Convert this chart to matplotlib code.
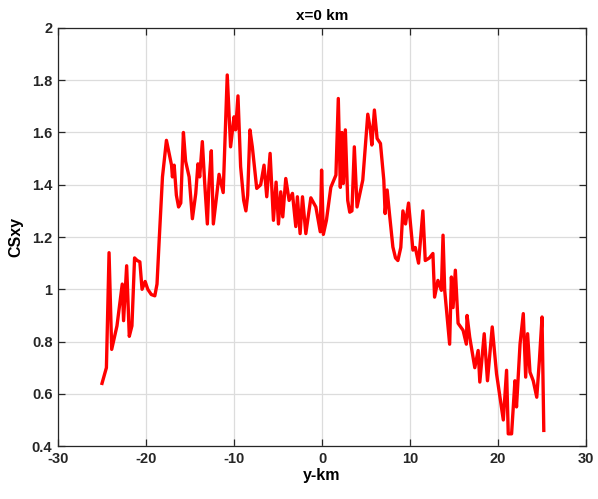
import matplotlib
matplotlib.use("Agg")
import matplotlib.pyplot as plt

# Data
y_km = [-25.0, -24.5, -24.2, -23.9, -23.3, -22.7, -22.55, -22.2, -21.9, -21.6,
        -21.3, -21.0, -20.7, -20.45, -20.1, -19.8, -19.4, -19.0, -18.75, -18.5,
        -18.13, -17.68,
        -17.38, -17.1, -17.0, -16.8, -16.55, -16.3, -16.05, -15.75, -15.5, -15.1, -14.73,
        -14.35, -14.1, -13.9, -13.6, -13.33, -13.03, -12.85, -12.58, -12.35, -12.0,
        -11.7, -11.23, -10.77, -10.39, -10.0, -9.82, -9.55, -9.25, -8.9, -8.65, -8.45, -8.19,
        -7.92, -7.42, -6.97, -6.59, -6.28, -5.9, -5.52, -5.22, -4.95, -4.69,
        -4.46, -4.12, -3.74, -3.36, -2.98, -2.8, -2.49, -2.22, -1.84, -1.27,
        -0.7, -0.2, -0.05, 0.15, 0.5, 1.0, 1.58, 1.85, 2.08, 2.27,
        2.42, 2.65, 2.92, 3.15, 3.4, 3.67, 3.98, 4.63, 5.2, 5.5, 5.66,
        5.95, 6.26, 6.64, 7.02, 7.17, 7.4, 7.66, 8.05, 8.35, 8.62, 8.95, 9.19,
        9.49, 9.83, 10.33, 10.6, 10.97, 11.46, 11.73, 12.2, 12.6, 12.79,
        13.17, 13.56, 13.75, 13.94, 14.5, 14.7, 14.89, 15.15, 15.46, 16.03,
        16.4, 16.48, 16.78, 17.36, 17.74, 17.93, 18.43, 18.8, 19.34, 19.83,
        20.6, 20.97, 21.16, 21.54, 21.92, 22.1, 22.5, 22.87, 23.14, 23.36,
        23.63, 24.0, 24.4, 24.7, 25.0, 25.2]
csxy = [0.64, 0.70, 1.14, 0.77, 0.86, 1.02, 0.88, 1.09, 0.82, 0.86,
        1.12, 1.11, 1.105, 1.00, 1.03, 1.0, 0.98, 0.975, 1.02, 1.19,
        1.43, 1.57,
        1.52, 1.475, 1.43, 1.475, 1.36, 1.315, 1.33, 1.60, 1.49, 1.43, 1.27,
        1.366, 1.48, 1.43, 1.565, 1.405, 1.25, 1.40, 1.53, 1.25, 1.35,
        1.44, 1.37, 1.82, 1.545, 1.66, 1.61, 1.74, 1.47, 1.34, 1.30, 1.36, 1.61,
        1.545, 1.386, 1.40, 1.475, 1.354, 1.52, 1.264, 1.41, 1.25, 1.373,
        1.277, 1.424, 1.34, 1.367, 1.24, 1.354, 1.213, 1.354, 1.213, 1.35,
        1.315, 1.22, 1.456, 1.21, 1.264, 1.39, 1.437, 1.73, 1.39, 1.60,
        1.405, 1.61, 1.34, 1.295, 1.30, 1.545, 1.315, 1.418, 1.67, 1.61, 1.552,
        1.686, 1.577, 1.558, 1.418, 1.29, 1.38, 1.29, 1.162, 1.12, 1.11, 1.16, 1.30,
        1.25, 1.33, 1.15, 1.16, 1.10, 1.30, 1.11, 1.12, 1.137, 0.97,
        1.034, 0.996, 1.207, 0.996, 0.79, 1.047, 0.93, 1.073, 0.87, 0.843,
        0.79, 0.90, 0.817, 0.70, 0.766, 0.645, 0.83, 0.65, 0.856, 0.677,
        0.50, 0.69, 0.447, 0.447, 0.65, 0.55, 0.79, 0.907, 0.664, 0.83,
        0.683, 0.65, 0.587, 0.728, 0.894, 0.46]

x_ticks = [-30, -20, -10, 0, 10, 20, 30]
y_ticks = [0.4, 0.6, 0.8, 1.0, 1.2, 1.4, 1.6, 1.8, 2.0]
y_tick_labels = ["0.4", "0.6", "0.8", "1", "1.2", "1.4", "1.6", "1.8", "2"]

plt.rcParams['font.family'] = ['Liberation Sans', 'DejaVu Sans']
plt.rcParams['font.weight'] = 'bold'

fig = plt.figure(figsize=(5.98, 4.99), dpi=100)
ax = fig.add_axes([0.097, 0.106, 0.883, 0.838])

ax.plot(y_km, csxy, color='#ff0000', linewidth=2.4, solid_joinstyle='round')

ax.set_xlim(-30, 30)
ax.set_ylim(0.4, 2.0)
ax.set_xticks(x_ticks)
ax.set_xticklabels([str(t) for t in x_ticks])
ax.set_yticks(y_ticks)
ax.set_yticklabels(y_tick_labels)

ax.grid(True, color='#dcdcdc', linewidth=0.9)
ax.set_axisbelow(True)
ax.tick_params(direction='in', top=True, right=True, length=5, width=0.9,
               colors='#262626', labelsize=10.5, pad=4)
for lab in ax.get_xticklabels() + ax.get_yticklabels():
    lab.set_fontweight('bold')
for s in ax.spines.values():
    s.set_color('#262626')
    s.set_linewidth(0.9)

ax.set_title("x=0 km", fontsize=11, fontweight='bold', pad=6)
ax.set_xlabel("y-km", fontsize=11.5, fontweight='bold', labelpad=2)
ax.set_ylabel("CSxy", fontsize=11.5, fontweight='bold', labelpad=6)

fig.savefig("out.png", dpi=100)
